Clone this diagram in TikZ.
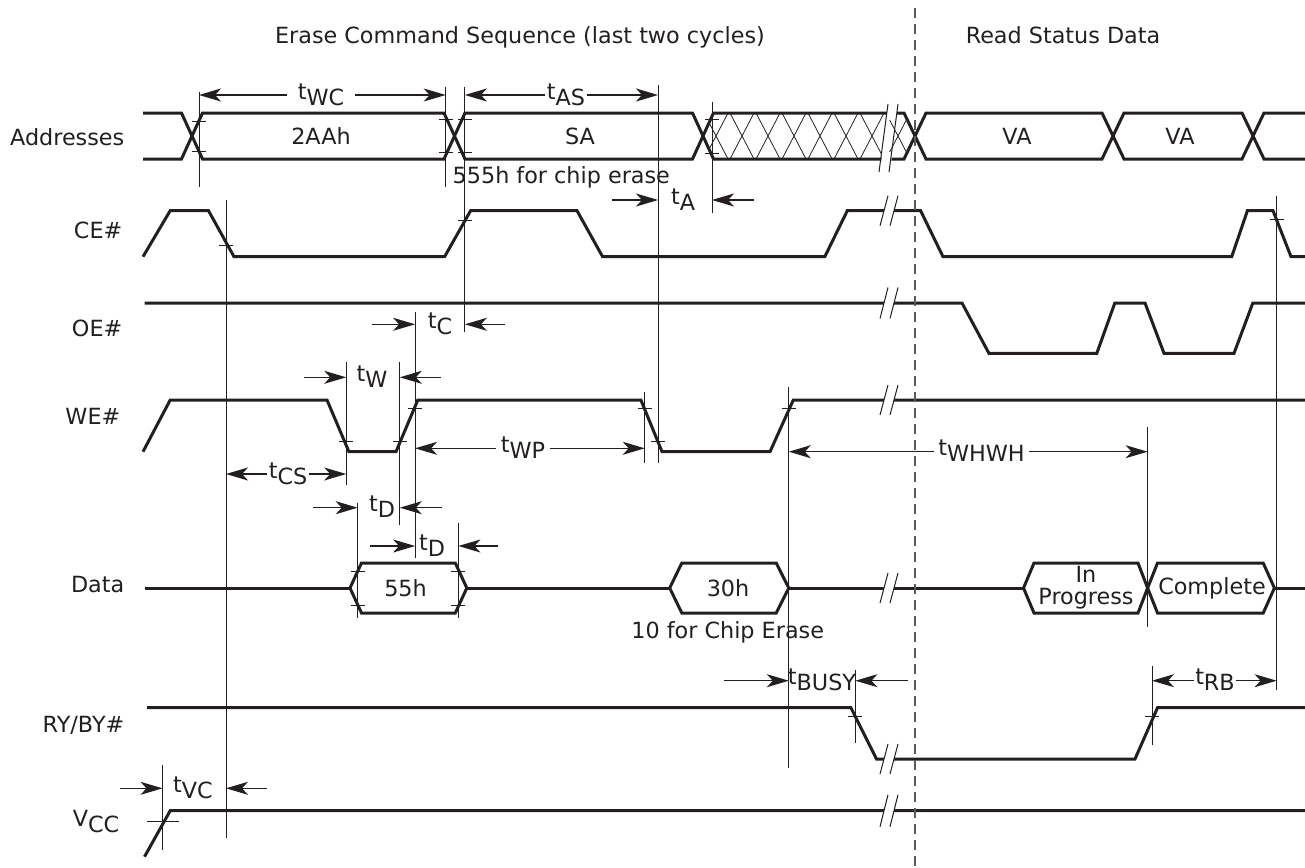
\documentclass[tikz,border=0pt]{standalone}
\usepackage{fontspec}
\setmainfont{DejaVu Sans}
\usetikzlibrary{arrows.meta}

\definecolor{ink}{RGB}{35,31,32}
\definecolor{dashgray}{RGB}{90,90,90}

\tikzset{
    sig/.style    = {line width = 3pt, line join = miter},
    guide/.style  = {line width = 1pt},
    tick/.style   = {line width = 1pt},
    hatch/.style  = {line width = 0.8pt},
    dim/.style    = {line width = 1.3pt, -{Stealth[length = 22pt, width = 13pt, inset = 6pt]}},
    lbl/.style    = {font = \fontsize{22.3}{20}\selectfont, inner sep = 1.5pt, text = ink},
    dashln/.style = {line width = 1.3pt, dashgray, dash pattern = on 10pt off 6pt},
}

\newcommand{\tsub}[1]{t\raisebox{-6pt}{#1}}
% break mark: #1 = level of the signal, #2 = half height
\newcommand{\brk}[2]{%
    \fill [white] (880,#1+#2) -- (888,#1-#2) -- (898,#1-#2) -- (890,#1+#2) -- cycle;
    \draw [guide] (880,#1+#2) -- (888,#1-#2) (890,#1+#2) -- (898,#1-#2);}

\begin{document}
\begin{tikzpicture}[x = 1pt, y = -1pt, ink]
    \useasboundingbox (0,0) rectangle (1305,867);

    \node [lbl, anchor = base] (hdErase) at (520,43.3) {Erase Command Sequence (last two cycles)};
    \node [lbl, anchor = base] (hdRead)  at (1063,43.3) {Read Status Data};

    \node [lbl, anchor = base east] (nmAddr) at (126,145)   {Addresses};
    \node [lbl, anchor = base east] (nmCE)   at (124,238.5) {CE\#};
    \node [lbl, anchor = base east] (nmOE)   at (124,336)   {OE\#};
    \node [lbl, anchor = base east] (nmWE)   at (122,424)   {WE\#};
    \node [lbl, anchor = base east] (nmData) at (126,592)   {Data};
    \node [lbl, anchor = base east] (nmRY)   at (126,732)   {RY/BY\#};
    \node [lbl, anchor = base east] (nmVCC)  at (121,826)   {V\raisebox{-6pt}{CC}};

    % address bus
    \draw [sig] (143,113) -- (181.5,113) -- (202.5,159) -- (444,159) -- (465,113) -- (692.5,113)
        -- (713.5,159) -- (904,159) -- (926,113) -- (1102,113) -- (1124,159) -- (1242,159)
        -- (1264,113) -- (1305,113);
    \draw [sig] (143,159) -- (181.5,159) -- (202.5,113) -- (444,113) -- (465,159) -- (692.5,159)
        -- (713.5,113) -- (904,113) -- (926,159) -- (1102,159) -- (1124,113) -- (1242,113)
        -- (1264,159) -- (1305,159);
    \begin{scope}
        \clip (703,136) -- (713.5,113) -- (904,113) -- (915,136) -- (904,159) -- (713.5,159) -- cycle;
        \draw [hatch] (704,113) -- (728,159) (728,113) -- (704,159)
                      (730,113) -- (754,159) (754,113) -- (730,159)
                      (756,113) -- (780,159) (780,113) -- (756,159)
                      (782,113) -- (806,159) (806,113) -- (782,159)
                      (808,113) -- (832,159) (832,113) -- (808,159)
                      (834,113) -- (858,159) (858,113) -- (834,159)
                      (860,113) -- (884,159) (884,113) -- (860,159)
                      (886,113) -- (910,159) (910,113) -- (886,159);
    \end{scope}
    \node [lbl] (vAddr1) at (321,136)  {2AAh};
    \node [lbl] (vAddr2) at (580,136)  {SA};
    \node [lbl] (vAddr3) at (1017,136) {VA};
    \node [lbl] (vAddr4) at (1180,136) {VA};
    \node [lbl, anchor = base west] (noteChip) at (451,183) {555h for chip erase};

    % control lines
    \draw [sig] (143,256.7) -- (170.2,210.7) -- (208.5,210.7) -- (234,256.7) -- (444.6,256.7)
        -- (470.6,210.7) -- (577,210.7) -- (602.6,256.7) -- (824.8,256.7) -- (847.3,210.7)
        -- (920.6,210.7) -- (943,256.7) -- (1231.7,256.7) -- (1247.4,210.7) -- (1273,210.7)
        -- (1291,256.7) -- (1305,256.7);
    \draw [sig] (144.5,303) -- (962,303) -- (988.9,353.3) -- (1096.8,353.3) -- (1114.8,303)
        -- (1145,303) -- (1164,353.3) -- (1234,353.3) -- (1252.8,303) -- (1305,303);
    \draw [sig] (143,451.7) -- (170.2,400) -- (327,400) -- (348.9,451.7) -- (396,451.7)
        -- (417.8,400) -- (640.9,400) -- (662,451.7) -- (770,451.7) -- (793.3,400) -- (1305,400);

    % data
    \draw [sig] (144.5,588) -- (350,588) (466.8,588) -- (669.7,588)
        (788.8,588) -- (1023.5,588) (1274.4,588) -- (1305,588);
    \draw [sig] (350,588) -- (361.5,563) -- (455.3,563) -- (466.8,588) -- (455.3,613) -- (361.5,613) -- cycle;
    \draw [sig] (669.7,588) -- (681.8,563) -- (776.2,563) -- (788.8,588) -- (776.2,613) -- (681.8,613) -- cycle;
    \draw [sig] (1023.5,588) -- (1034,563) -- (1138,563) -- (1147.6,588) -- (1138,613) -- (1034,613) -- cycle;
    \draw [sig] (1147.6,588) -- (1157.5,563) -- (1263.2,563) -- (1274.4,588) -- (1263.2,613) -- (1157.5,613) -- cycle;
    \node [lbl] (d55)   at (405.5,588) {55h};
    \node [lbl] (d30)   at (728,588)   {30h};
    \node [lbl, anchor = base] (dIn)   at (1086,582) {In};
    \node [lbl, anchor = base] (dProg) at (1086,604) {Progress};
    \node [lbl] (dDone) at (1212,588)  {Complete};
    \node [lbl, anchor = base] (noteTen) at (727.7,638) {10 for Chip Erase};

    % ready/busy and supply
    \draw [sig] (147,707.7) -- (850.9,707.7) -- (876.5,759) -- (1135,759) -- (1157.5,707.7) -- (1305,707.7);
    \draw [sig] (144.5,856.7) -- (170.2,810.7) -- (1305,810.7);

    % reference lines
    \draw [guide] (199,92) -- (199,187);
    \draw [guide] (445.7,87) -- (445.7,187);
    \draw [guide] (464.9,87) -- (464.9,332);
    \draw [guide] (658,85) -- (658,463);
    \draw [guide] (712,102) -- (712,213);
    \draw [guide] (226,200) -- (226,838);
    \draw [guide] (346.2,362) -- (346.2,485);
    \draw [guide] (357.7,503) -- (357.7,618);
    \draw [guide] (399.8,362) -- (399.8,525);
    \draw [guide] (415.1,312) -- (415.1,558);
    \draw [guide] (458.4,523) -- (458.4,618);
    \draw [guide] (644.7,392) -- (644.7,463);
    \draw [guide] (788.8,387) -- (788.8,768);
    \draw [guide] (855.4,670) -- (855.4,743);
    \draw [guide] (1147.6,427) -- (1147.6,627);
    \draw [guide] (1152,666) -- (1152,745);
    \draw [guide] (1276.6,196) -- (1276.6,690);
    \draw [guide] (162.5,765) -- (162.5,850);

    % ticks
    \draw [tick] (192,121) -- ++(14,0) (192,151) -- ++(14,0)
                 (438.7,119) -- ++(14,0) (438.7,152) -- ++(14,0)
                 (457.9,119) -- ++(14,0) (457.9,152) -- ++(14,0)
                 (705,119) -- ++(14,0) (705,153) -- ++(14,0)
                 (219,245) -- ++(14,0) (457.9,220.7) -- ++(14,0) (1269.6,219.3) -- ++(14,0)
                 (339.2,441.7) -- ++(14,0) (392.8,441.7) -- ++(14,0) (408.1,408.3) -- ++(14,0)
                 (637.7,408.3) -- ++(14,0) (651,441.7) -- ++(14,0) (781.8,408.3) -- ++(14,0)
                 (350.7,571.7) -- ++(14,0) (350.7,605.7) -- ++(14,0)
                 (451.4,571.7) -- ++(14,0) (451.4,605.7) -- ++(14,0)
                 (848.4,716) -- ++(14,0) (1145,716) -- ++(14,0)
                 (147,821.7) -- ++(32,0);

    % breaks
    \fill [white] (880.7,166) -- (882.3,152) -- (892.3,152) -- (890.7,166) -- cycle;
    \fill [white] (886.1,120) -- (887.8,106) -- (897.8,106) -- (896.1,120) -- cycle;
    \draw [guide] (879,172) -- (888,104) (889,172) -- (898,104);
    \brk{210.7}{15}
    \brk{303}{15.5}
    \brk{400}{15}
    \brk{588}{15}
    \brk{759}{15}
    \brk{810.7}{16}

    % timing marks
    \coordinate (wcL) at (199,95);
    \coordinate (wcR) at (445.7,95);
    \node [lbl, anchor = base, inner xsep = 11pt] (tWC) at (321,99) {\tsub{WC}};
    \draw [dim] (tWC.west |- wcL) -- (wcL);
    \draw [dim] (tWC.east |- wcR) -- (wcR);

    \coordinate (asL) at (464.9,95);
    \coordinate (asR) at (658,95);
    \node [lbl, anchor = base] (tAS) at (566,99) {\tsub{AS}};
    \draw [dim] (tAS.west |- asL) -- (asL);
    \draw [dim] (tAS.east |- asR) -- (asR);

    \coordinate (aTailL) at (612,200);
    \coordinate (aTipL)  at (658,200);
    \coordinate (aTailR) at (753.7,200);
    \coordinate (aTipR)  at (712,200);
    \node [lbl, anchor = base] (tA) at (683,204) {\tsub{A}};
    \draw [dim] (aTailL) -- (aTipL);
    \draw [dim] (aTailR) -- (aTipR);

    \coordinate (cTailL) at (371.9,324.3);
    \coordinate (cTipL)  at (415.1,324.3);
    \coordinate (cTailR) at (505,324.3);
    \coordinate (cTipR)  at (464.9,324.3);
    \node [lbl, anchor = base] (tC) at (440,328.3) {\tsub{C}};
    \draw [dim] (cTailL) -- (cTipL);
    \draw [dim] (cTailR) -- (cTipR);

    \coordinate (wTailL) at (304,377.3);
    \coordinate (wTipL)  at (346.2,377.3);
    \coordinate (wTailR) at (440.7,377.3);
    \coordinate (wTipR)  at (399.8,377.3);
    \node [lbl, anchor = base] (tW) at (372,381.3) {\tsub{W}};
    \draw [dim] (wTailL) -- (wTipL);
    \draw [dim] (wTailR) -- (wTipR);

    \coordinate (csL) at (226,474);
    \coordinate (csR) at (346.2,474);
    \node [lbl, anchor = base] (tCS) at (288,478) {\tsub{CS}};
    \draw [dim] (tCS.west |- csL) -- (csL);
    \draw [dim] (tCS.east |- csR) -- (csR);

    \coordinate (wpL) at (415.1,448.3);
    \coordinate (wpR) at (644.7,448.3);
    \node [lbl, anchor = base, inner xsep = 5pt] (tWP) at (523,452.3) {\tsub{WP}};
    \draw [dim] (tWP.west |- wpL) -- (wpL);
    \draw [dim] (tWP.east |- wpR) -- (wpR);

    \coordinate (whL) at (788.8,451.7);
    \coordinate (whR) at (1147.6,451.7);
    \node [lbl, anchor = base, inner xsep = 4pt] (tWHWH) at (981.5,455.7) {\tsub{WHWH}};
    \draw [dim] (tWHWH.west |- whL) -- (whL);
    \draw [dim] (tWHWH.east |- whR) -- (whR);

    \coordinate (d1TailL) at (313,507.7);
    \coordinate (d1TipL)  at (357.7,507.7);
    \coordinate (d1TailR) at (441.9,507.7);
    \coordinate (d1TipR)  at (399.8,507.7);
    \node [lbl, anchor = base] (tD1) at (382,511.7) {\tsub{D}};
    \draw [dim] (d1TailL) -- (d1TipL);
    \draw [dim] (d1TailR) -- (d1TipR);

    \coordinate (d2TailL) at (370.3,546);
    \coordinate (d2TipL)  at (415.1,546);
    \coordinate (d2TailR) at (498.2,546);
    \coordinate (d2TipR)  at (458.4,546);
    \node [lbl, anchor = base] (tD2) at (432,550) {\tsub{D}};
    \draw [dim] (d2TailL) -- (d2TipL);
    \draw [dim] (d2TailR) -- (d2TipR);

    \coordinate (byTailL) at (723.6,680.7);
    \coordinate (byTipL)  at (788.8,680.7);
    \coordinate (byTailR) at (908,680.7);
    \coordinate (byTipR)  at (855.4,680.7);
    \node [lbl, anchor = base] (tBUSY) at (822,684.7) {\tsub{BUSY}};
    \draw [dim] (byTailL) -- (byTipL);
    \draw [dim] (byTailR) -- (byTipR);

    \coordinate (rbL) at (1152,680.7);
    \coordinate (rbR) at (1276.6,680.7);
    \node [lbl, anchor = base] (tRB) at (1215,684.7) {\tsub{RB}};
    \draw [dim] (tRB.west |- rbL) -- (rbL);
    \draw [dim] (tRB.east |- rbR) -- (rbR);

    \coordinate (vcTailL) at (120,788.3);
    \coordinate (vcTipL)  at (162.5,788.3);
    \coordinate (vcTailR) at (267,788.3);
    \coordinate (vcTipR)  at (226,788.3);
    \node [lbl, anchor = base] (tVC) at (193,792.3) {\tsub{VC}};
    \draw [dim] (vcTailL) -- (vcTipL);
    \draw [dim] (vcTailR) -- (vcTipR);

    % phase boundary
    \draw [dashln] (915,8) -- (915,867);
\end{tikzpicture}
\end{document}
